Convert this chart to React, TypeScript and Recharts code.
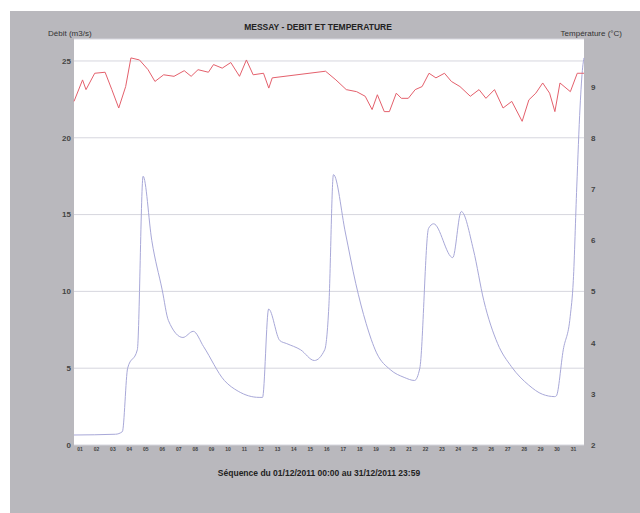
import { LineChart, Line, XAxis, YAxis, CartesianGrid } from 'recharts';

// débit (m3/s) - jour depuis le 01/12/2011 00:00
const flowDays = [
  0, 2.52, 2.94, 3.26, 3.85, 4.2, 4.73, 5.36, 5.74, 6.62, 7.25, 7.88, 9.14, 9.98, 11.25, 11.46,
  11.83, 12.51, 12.93, 13.77, 14.61, 15.24, 15.49, 15.77, 16.5, 17.13, 17.76, 18.39, 19.23, 20.07,
  20.7, 21.02, 21.55, 21.86, 23.02, 23.54, 24.28, 24.91, 25.75, 26.59, 27.64, 28.48, 29.22, 29.32,
  29.74, 30.16, 30.35, 30.56, 30.76, 30.92, 31,
];
const flowValues = [
  0.65, 0.7, 0.87, 5.0, 6.2, 17.5, 13.3, 10.1, 8.1, 7.0, 7.4, 6.4, 4.2, 3.5, 3.1, 3.1,
  8.85, 6.8, 6.6, 6.2, 5.5, 6.2, 9.0, 17.6, 13.8, 10.5, 7.9, 6.0, 4.9, 4.4,
  4.2, 5.0, 14.1, 14.4, 12.2, 15.2, 12.7, 9.4, 6.6, 5.1, 3.9, 3.3, 3.15, 3.2,
  6.2, 8.35, 10.7, 16.8, 22.0, 24.6, 25.2,
];

// température (°C)
const tempDays = [
  0, 0.52, 0.73, 1.26, 1.89, 2.3, 2.72, 3.14, 3.46, 3.98, 4.5, 4.92, 5.45, 6.08, 6.7, 7.12,
  7.54, 8.17, 8.48, 9.01, 9.53, 10.06, 10.48, 10.89, 11.52, 11.84, 12.05, 15.29, 15.92, 16.55,
  17.18, 17.7, 18.12, 18.44, 18.86, 19.17, 19.59, 19.9, 20.32, 20.74, 21.16, 21.58, 22.0, 22.52,
  22.94, 23.46, 24.09, 24.62, 25.04, 25.56, 26.08, 26.61, 27.24, 27.65, 28.07, 28.49, 28.91,
  29.23, 29.54, 30.17, 30.59, 31,
];
const tempValues = [
  8.72, 9.14, 8.95, 9.27, 9.29, 8.95, 8.59, 9.01, 9.57, 9.53, 9.34, 9.11, 9.24, 9.21, 9.32, 9.21,
  9.34, 9.29, 9.44, 9.37, 9.48, 9.21, 9.53, 9.24, 9.27, 8.98, 9.18, 9.31, 9.14, 8.95,
  8.91, 8.82, 8.56, 8.85, 8.52, 8.52, 8.88, 8.78, 8.78, 8.95, 9.01, 9.27, 9.18, 9.27,
  9.11, 9.01, 8.82, 8.95, 8.78, 8.95, 8.59, 8.72, 8.33, 8.75, 8.88, 9.08, 8.88,
  8.52, 9.08, 8.91, 9.27, 9.27,
];

const dayLabels = [
  '01', '02', '03', '04', '05', '06', '07', '08', '09', '10', '11', '12', '13', '14', '15', '16',
  '17', '18', '19', '20', '21', '22', '23', '24', '25', '26', '27', '28', '29', '30', '31',
];
const flowTicks = [0, 5, 10, 15, 20, 25];
const tempTicks = [2, 3, 4, 5, 6, 7, 8, 9];

const FONT = '"Liberation Sans", Arial, sans-serif';

export default function App() {
  const flowData = flowDays.map((d, i) => ({ day: d, flow: flowValues[i] }));
  const tempData = tempDays.map((d, i) => ({ day: d, temp: tempValues[i] }));
  const dayTicks = dayLabels.map((_, i) => i);

  return (
    <div style={{ position: 'absolute', left: 0, top: 0, width: 640, height: 513, background: '#fff', fontFamily: FONT }}>
      <div style={{ position: 'absolute', left: 10, top: 11, width: 630, height: 502, background: '#b9b8bd' }} />
      <div style={{ position: 'absolute', left: 0, top: 0 }}>
        <LineChart width={640} height={513} margin={{ top: 39, right: 0, bottom: 0, left: 0 }}>
          <CartesianGrid vertical={false} yAxisId="left" stroke="#d6d6de" fill="#ffffff" />
          <XAxis
            dataKey="day"
            type="number"
            domain={[0, 31]}
            ticks={dayTicks}
            tickFormatter={(v) => dayLabels[v] ?? ''}
            allowDuplicatedCategory={false}
            height={68}
            axisLine={false}
            tickLine={false}
            tickSize={1}
            tickMargin={1}
            interval={0}
            tick={{ fontSize: 5, fill: '#444', fontWeight: 700, fontFamily: FONT, dx: 6 }}
          />
          <YAxis
            yAxisId="left"
            orientation="left"
            width={74}
            domain={[0, 26.43]}
            ticks={flowTicks}
            allowDataOverflow
            axisLine={false}
            tickLine={false}
            tickSize={3}
            tickMargin={0}
            tick={{ fontSize: 8, fill: '#444', fontWeight: 700, fontFamily: FONT }}
          />
          <YAxis
            yAxisId="right"
            orientation="right"
            width={56}
            domain={[2, 9.94]}
            ticks={tempTicks}
            allowDataOverflow
            axisLine={false}
            tickLine={false}
            tickSize={6}
            tickMargin={1}
            tick={{ fontSize: 8, fill: '#444', fontWeight: 700, fontFamily: FONT, textAnchor: 'start' }}
          />
          <Line
            data={flowData}
            dataKey="flow"
            yAxisId="left"
            type="monotone"
            stroke="#a8a8d8"
            strokeWidth={1}
            dot={false}
            isAnimationActive={false}
          />
          <Line
            data={tempData}
            dataKey="temp"
            yAxisId="right"
            type="linear"
            stroke="#e4606c"
            strokeWidth={1}
            dot={false}
            isAnimationActive={false}
          />
        </LineChart>
      </div>
      <svg width={640} height={513} style={{ position: 'absolute', left: 0, top: 0, pointerEvents: 'none' }}>
        <text x={318} y={30} textAnchor="middle" fontSize={8.5} fontWeight={700} fill="#222" fontFamily={FONT}>
          MESSAY - DEBIT ET TEMPERATURE
        </text>
        <text x={48} y={36} fontSize={8} fill="#333" fontFamily={FONT}>
          Débit (m3/s)
        </text>
        <text x={622} y={36} textAnchor="end" fontSize={8} fill="#333" fontFamily={FONT}>
          Température (°C)
        </text>
        <text x={319} y={476} textAnchor="middle" fontSize={8.5} fontWeight={700} fill="#222" fontFamily={FONT}>
          Séquence du 01/12/2011 00:00 au 31/12/2011 23:59
        </text>
      </svg>
    </div>
  );
}
